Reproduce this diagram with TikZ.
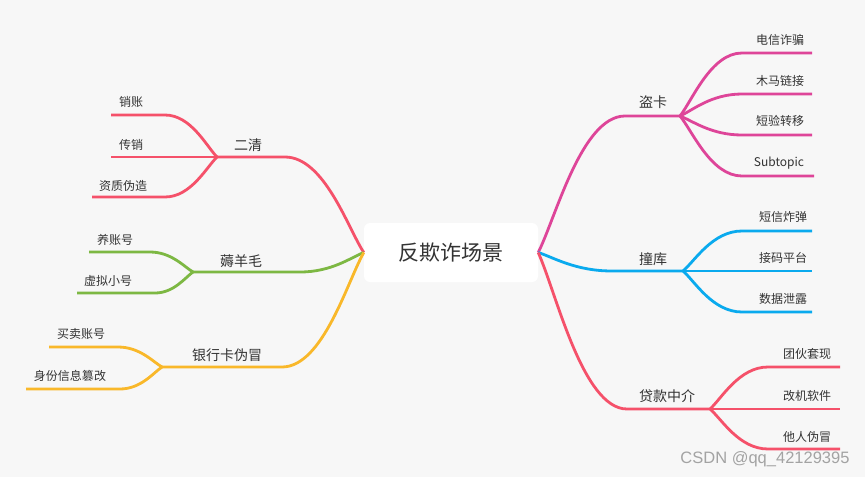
\documentclass[tikz,border=0pt]{standalone}
\usepackage{fontspec}
\setmainfont{Noto Sans CJK SC}
\newfontfamily\wmfont{Liberation Sans}
\usetikzlibrary{calc}
\definecolor{bg}{HTML}{F7F7F7}
\definecolor{cRed}{HTML}{F5516A}
\definecolor{cGreen}{HTML}{7DB843}
\definecolor{cOrange}{HTML}{F9B82A}
\definecolor{cMag}{HTML}{DE4599}
\definecolor{cBlue}{HTML}{0AAAEE}
\definecolor{txt}{HTML}{333333}
\definecolor{wm}{HTML}{A3A3A3}
\begin{document}
\begin{tikzpicture}[x=1pt,y=-1pt,
  mm/.style={to path={let \p1=(\tikztostart),\p2=(\tikztotarget) in
     .. controls ({\x1+0.2*(\x2-\x1)},{\y1+0.25*(\y2-\y1)}) and ({\x1+0.5*(\x2-\x1)},{\y2}) .. (\tikztotarget)}},
  br/.style={line width=2.8pt, line join=round},
  lred/.style={br, draw=cRed},
  lgreen/.style={br, draw=cGreen},
  lorange/.style={br, draw=cOrange},
  lmag/.style={br, draw=cMag},
  lblue/.style={br, draw=cBlue},
  rootbox/.style={fill=white, rounded corners=6pt, minimum width=174pt, minimum height=59pt, inner sep=0pt, text=txt, font=\fontsize{21}{24}\selectfont},
  mid/.style={text=txt, inner sep=0pt, font=\fontsize{14}{16}\selectfont},
  leaf/.style={text=txt, inner sep=0pt, font=\fontsize{12}{14}\selectfont},
]
\fill[bg] (0,0) rectangle (865,477);
\useasboundingbox (0,0) rectangle (865,477);

\node[rootbox] (root) at (451,252.5) {反欺诈场景};

% ---------- left: 二清 ----------
\coordinate (eqA) at (285,157); \coordinate (eqJ) at (217,157);
\coordinate (xzA) at (165,115); \coordinate (xzE) at (111,115);
\coordinate (cxE) at (111,157);
\coordinate (zzA) at (165,197); \coordinate (zzE) at (92,197);
\draw[lred] (root.west) to[mm] (eqA) -- (eqJ);
\draw[lred] (eqJ) to[mm] (xzA) -- (xzE);
\draw[lred] (eqJ) -- (cxE);
\draw[lred] (eqJ) to[mm] (zzA) -- (zzE);
\node[mid] (erqing) at (248,145) {二清};
\node[leaf] (xiaozhang) at (131,102) {销账};
\node[leaf] (chuanxiao) at (131,145) {传销};
\node[leaf] (zizhi) at (123,186) {资质伪造};

% ---------- left: 薅羊毛 ----------
\coordinate (hyA) at (300,272); \coordinate (hyJ) at (193,272);
\coordinate (yzA) at (150,252); \coordinate (yzE) at (89,252);
\coordinate (xnA) at (155,293); \coordinate (xnE) at (77,293);
\draw[lgreen] (root.west) to[mm] (hyA) -- (hyJ);
\draw[lgreen] (hyJ) to[mm] (yzA) -- (yzE);
\draw[lgreen] (hyJ) to[mm] (xnA) -- (xnE);
\node[mid] (haoyangmao) at (241,261) {薅羊毛};
\node[leaf] (yangzhang) at (115,240) {养账号};
\node[leaf] (xuni) at (108,281) {虚拟小号};

% ---------- left: 银行卡伪冒 ----------
\coordinate (ykA) at (282,367); \coordinate (ykJ) at (162,367);
\coordinate (mmA) at (118,347); \coordinate (mmE) at (49,347);
\coordinate (sfA) at (120,389); \coordinate (sfE) at (26,389);
\draw[lorange] (root.west) to[mm] (ykA) -- (ykJ);
\draw[lorange] (ykJ) to[mm] (mmA) -- (mmE);
\draw[lorange] (ykJ) to[mm] (sfA) -- (sfE);
\node[mid] (yinhangka) at (227,355) {银行卡伪冒};
\node[leaf] (maimai) at (81,334) {买卖账号};
\node[leaf] (shenfen) at (70,376) {身份信息篡改};

% ---------- right: 盗卡 ----------
\coordinate (dkA) at (625,116); \coordinate (dkJ) at (680,116);
\coordinate (dxA) at (742,53);  \coordinate (dxE) at (812,53);
\coordinate (mlA) at (742,94);  \coordinate (mlE) at (812,94);
\coordinate (dyA) at (742,135); \coordinate (dyE) at (812,135);
\coordinate (stA) at (742,176); \coordinate (stE) at (814,176);
\draw[lmag] (root.east) to[mm] (dkA) -- (dkJ);
\draw[lmag] (dkJ) to[mm] (dxA) -- (dxE);
\draw[lmag] (dkJ) to[mm] (mlA) -- (mlE);
\draw[lmag] (dkJ) to[mm] (dyA) -- (dyE);
\draw[lmag] (dkJ) to[mm] (stA) -- (stE);
\node[mid] (daoka) at (653,102) {盗卡};
\node[leaf] (dianxin) at (780,40) {电信诈骗};
\node[leaf] (muma) at (780,81) {木马链接};
\node[leaf] (duanyan) at (780,121) {短验转移};
\node[leaf] (subtopic) at (779,163) {Subtopic};

% ---------- right: 撞库 ----------
\coordinate (zkA) at (612,271); \coordinate (zkJ) at (683,271);
\coordinate (zdA) at (742,231); \coordinate (zdE) at (812,231);
\coordinate (jmE) at (812,271);
\coordinate (sjA) at (742,312); \coordinate (sjE) at (812,312);
\draw[lblue] (root.east) to[mm] (zkA) -- (zkJ);
\draw[lblue] (zkJ) to[mm] (zdA) -- (zdE);
\draw[lblue] (zkJ) -- (jmE);
\draw[lblue] (zkJ) to[mm] (sjA) -- (sjE);
\node[mid] (zhuangku) at (653,259) {撞库};
\node[leaf] (zhadan) at (783,217) {短信炸弹};
\node[leaf] (jiema) at (783,258) {接码平台};
\node[leaf] (xielu) at (783,299) {数据泄露};

% ---------- right: 贷款中介 ----------
\coordinate (dzA) at (627,409); \coordinate (dzJ) at (710,409);
\coordinate (thA) at (768,367); \coordinate (thE) at (840,367);
\coordinate (gjE) at (840,409);
\coordinate (trA) at (768,449); \coordinate (trE) at (840,449);
\draw[lred] (root.east) to[mm] (dzA) -- (dzJ);
\draw[lred] (dzJ) to[mm] (thA) -- (thE);
\draw[lred] (dzJ) -- (gjE);
\draw[lred] (dzJ) to[mm] (trA) -- (trE);
\node[mid] (daikuan) at (667,396) {贷款中介};
\node[leaf] (tuanhuo) at (807,354) {团伙套现};
\node[leaf] (gaiji) at (807,396) {改机软件};
\node[leaf] (taren) at (807,437) {他人伪冒};

% watermark
\node[text=wm, inner sep=0pt, font=\wmfont\fontsize{16.5}{18}\selectfont] (wmark) at (765,459) {CSDN @qq\_42129395};
\end{tikzpicture}
\end{document}
